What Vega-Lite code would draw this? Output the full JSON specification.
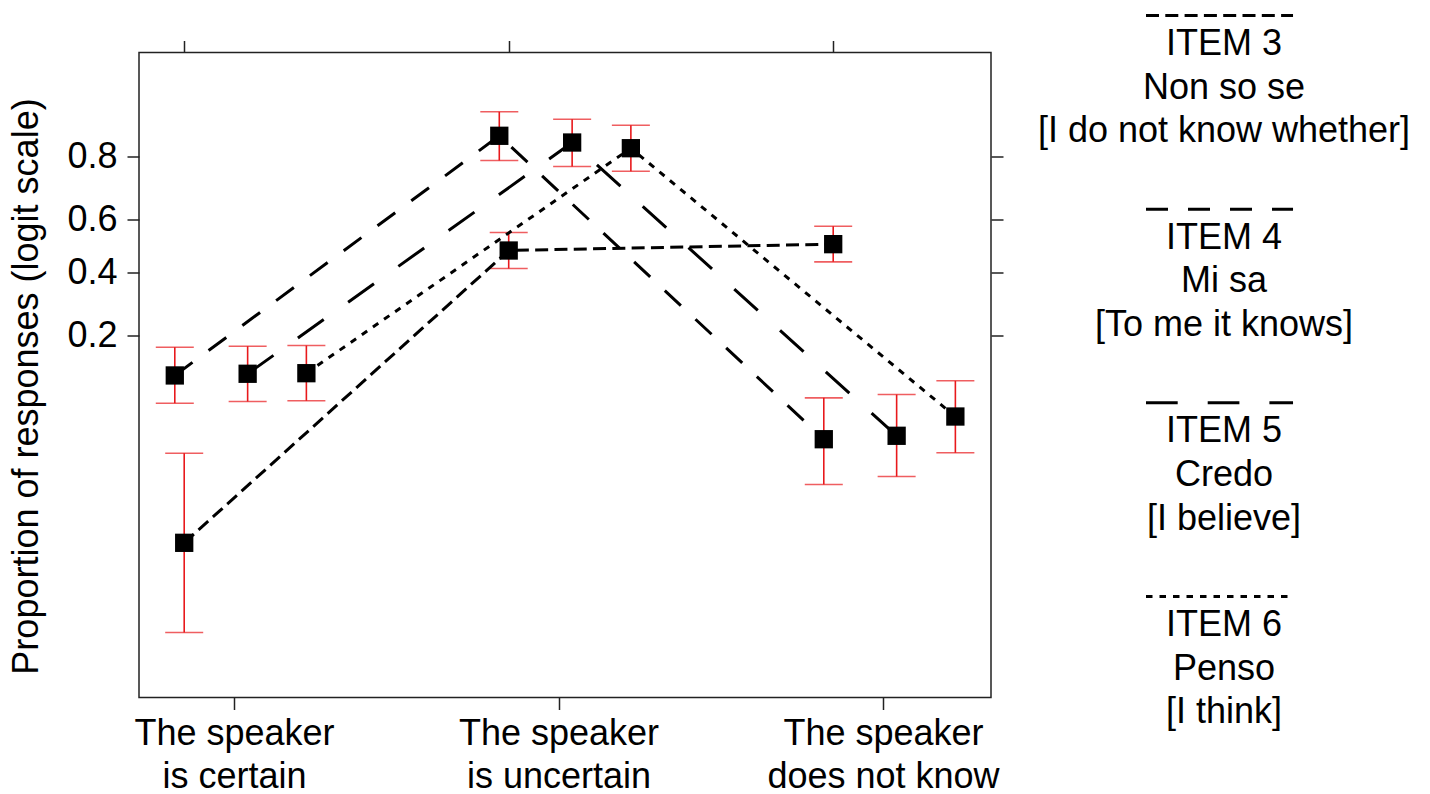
{
  "$schema": "https://vega.github.io/schema/vega-lite/v6.json",
  "background": "white",
  "padding": {"left": 8, "top": 13.5, "right": 0, "bottom": 3},
  "config": {
    "font": "Liberation Sans",
    "view": {"stroke": null},
    "axis": {"grid": false, "domain": false, "tickColor": "#222", "tickWidth": 1.5, "tickSize": 12, "labelColor": "#000", "titleColor": "#000", "labelFontSize": 36, "titleFontSize": 36, "titleFontWeight": "normal", "labelFont": "Liberation Sans", "titleFont": "Liberation Sans", "labelLimit": 0}
  },
  "datasets": {
    "points": [
      {"item": "ITEM 4", "condition": "The speaker is certain", "x": 0.8175, "logit": -2.004, "lo": -2.433, "hi": -1.567},
      {"item": "ITEM 4", "condition": "The speaker is uncertain", "x": 1.8175, "logit": 1.702, "lo": 1.320, "hi": 2.073},
      {"item": "ITEM 4", "condition": "The speaker does not know", "x": 2.8175, "logit": -2.990, "lo": -3.690, "hi": -2.350},
      {"item": "ITEM 5", "condition": "The speaker is certain", "x": 1.042, "logit": -1.978, "lo": -2.407, "hi": -1.552},
      {"item": "ITEM 5", "condition": "The speaker is uncertain", "x": 2.042, "logit": 1.598, "lo": 1.227, "hi": 1.958},
      {"item": "ITEM 5", "condition": "The speaker does not know", "x": 3.042, "logit": -2.937, "lo": -3.567, "hi": -2.299},
      {"item": "ITEM 6", "condition": "The speaker is certain", "x": 1.223, "logit": -1.969, "lo": -2.396, "hi": -1.541},
      {"item": "ITEM 6", "condition": "The speaker is uncertain", "x": 2.223, "logit": 1.510, "lo": 1.154, "hi": 1.866},
      {"item": "ITEM 6", "condition": "The speaker does not know", "x": 3.223, "logit": -2.639, "lo": -3.200, "hi": -2.087},
      {"item": "ITEM 3", "condition": "The speaker is certain", "x": 0.8465, "logit": -4.592, "lo": -5.979, "hi": -3.206},
      {"item": "ITEM 3", "condition": "The speaker is uncertain", "x": 1.8465, "logit": -0.072, "lo": -0.350, "hi": 0.206},
      {"item": "ITEM 3", "condition": "The speaker does not know", "x": 2.8465, "logit": 0.026, "lo": -0.247, "hi": 0.304}
    ],
    "legend": [
      {"item": "ITEM 3", "label": "ITEM 3\nNon so se\n[I do not know whether]"},
      {"item": "ITEM 4", "label": "ITEM 4\nMi sa\n[To me it knows]"},
      {"item": "ITEM 5", "label": "ITEM 5\nCredo\n[I believe]"},
      {"item": "ITEM 6", "label": "ITEM 6\nPenso\n[I think]"}
    ]
  },
  "spacing": 24,
  "hconcat": [
    {
      "width": 852,
      "height": 645,
      "view": {"stroke": "#222", "strokeWidth": 1.5},
      "data": {"name": "points"},
      "resolve": {"axis": {"x": "independent", "y": "independent"}},
      "layer": [
        {
          "mark": {"type": "rule", "color": "#e8191c", "strokeWidth": 1.6},
          "encoding": {
            "x": {"field": "x", "type": "quantitative", "scale": {"domain": [0.7072, 3.3328], "nice": false, "zero": false},
              "axis": {"orient": "bottom", "values": [1, 2, 3], "title": null, "labelPadding": 7, "labelLineHeight": 43, "labelOverlap": false, "labelFlush": false, "labelBound": false, "labelLimit": 0,
                "labelExpr": "datum.value == 1 ? ['The speaker', 'is certain'] : datum.value == 2 ? ['The speaker', 'is uncertain'] : ['The speaker', 'does not know']"}},
            "y": {"field": "lo", "type": "quantitative", "scale": {"domain": [-6.984, 2.990], "nice": false, "zero": false},
              "axis": {"orient": "left", "values": [-1.3863, -0.4055, 0.4055, 1.3863], "labelPadding": 10, "titlePadding": 21, "titleY": 333.5,
                "title": "Proportion of responses (logit scale)", "labelOverlap": false,
                "labelExpr": "format(1 / (1 + exp(-datum.value)), '.1f')"}},
            "y2": {"field": "hi"}
          }
        },
        {
          "mark": {"type": "tick", "orient": "horizontal", "color": "#e8191c", "size": 38, "thickness": 1.6},
          "encoding": {
            "x": {"field": "x", "type": "quantitative", "axis": null},
            "y": {"field": "lo", "type": "quantitative", "axis": null}
          }
        },
        {
          "mark": {"type": "tick", "orient": "horizontal", "color": "#e8191c", "size": 38, "thickness": 1.6},
          "encoding": {
            "x": {"field": "x", "type": "quantitative", "axis": null},
            "y": {"field": "hi", "type": "quantitative", "axis": null}
          }
        },
        {
          "mark": {"type": "line", "color": "#000", "strokeWidth": 3, "strokeCap": "butt"},
          "encoding": {
            "x": {"field": "x", "type": "quantitative",
              "axis": {"orient": "top", "values": [0.8465, 1.8465, 2.8465], "labels": false, "title": null}},
            "y": {"field": "logit", "type": "quantitative",
              "axis": {"orient": "right", "values": [-1.3863, -0.4055, 0.4055, 1.3863], "labels": false, "title": null}},
            "strokeDash": {"field": "item", "type": "nominal", "legend": null,
              "scale": {"domain": ["ITEM 3", "ITEM 4", "ITEM 5", "ITEM 6"], "range": [[13, 6.3], [22, 20], [31.7, 30], [6.5, 7]]}}
          }
        },
        {
          "mark": {"type": "point", "shape": "square", "filled": true, "color": "#000", "size": 335, "opacity": 1},
          "encoding": {
            "x": {"field": "x", "type": "quantitative", "axis": null},
            "y": {"field": "logit", "type": "quantitative", "axis": null}
          }
        }
      ]
    },
    {
      "width": 390,
      "height": 645,
      "data": {"name": "legend"},
      "layer": [
        {
          "mark": {"type": "rule", "color": "#000", "strokeWidth": 3, "strokeCap": "butt"},
          "encoding": {
            "x": {"datum": 0.3, "type": "quantitative", "scale": {"domain": [0, 1], "nice": false, "zero": false}, "axis": null},
            "x2": {"datum": 0.677},
            "y": {"field": "item", "type": "nominal", "scale": {"type": "point", "range": [-37, 544], "padding": 0}, "axis": null},
            "strokeDash": {"field": "item", "type": "nominal", "legend": null,
              "scale": {"domain": ["ITEM 3", "ITEM 4", "ITEM 5", "ITEM 6"], "range": [[13, 6.3], [22, 20], [31.7, 30], [6.5, 7]]}}
          }
        },
        {
          "mark": {"type": "text", "fontSize": 36, "align": "center", "baseline": "alphabetic", "dy": 39.5, "lineHeight": 43.7, "lineBreak": "\n", "color": "#000"},
          "encoding": {
            "x": {"datum": 0.5, "type": "quantitative"},
            "y": {"field": "item", "type": "nominal"},
            "text": {"field": "label"}
          }
        }
      ]
    }
  ]
}
